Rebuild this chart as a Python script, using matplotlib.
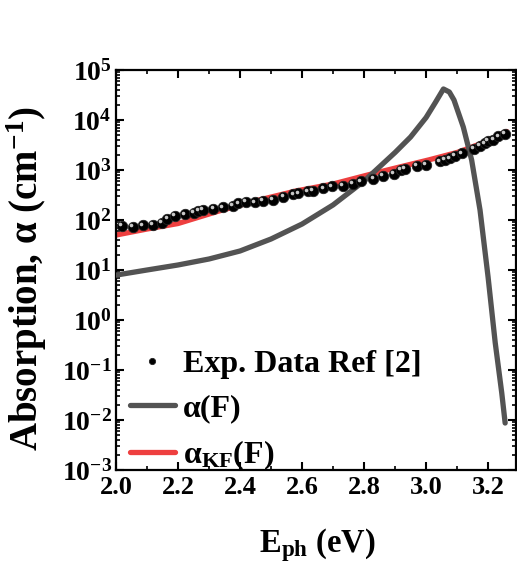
import numpy as np
import matplotlib
matplotlib.use("Agg")
import matplotlib.pyplot as plt
from matplotlib.transforms import ScaledTranslation
from matplotlib.ticker import LogLocator, MultipleLocator, NullFormatter

plt.rcParams['font.family'] = ['Liberation Serif', 'DejaVu Serif']
plt.rcParams['font.weight'] = 'bold'
plt.rcParams['mathtext.fontset'] = 'custom'
plt.rcParams['mathtext.rm'] = 'Liberation Serif:bold'
plt.rcParams['mathtext.bf'] = 'Liberation Serif:bold'
plt.rcParams['mathtext.it'] = 'Liberation Serif:bold'
plt.rcParams['mathtext.default'] = 'bf'

# experimental data (Ref [2])
exp_E = [2.02, 2.054, 2.086, 2.118, 2.147, 2.166, 2.19, 2.223, 2.25, 2.266,
         2.28, 2.314, 2.346, 2.378, 2.395, 2.42, 2.448, 2.475, 2.507, 2.54,
         2.572, 2.588, 2.62, 2.636, 2.669, 2.696, 2.733, 2.765, 2.79, 2.83,
         2.862, 2.895, 2.92, 2.932, 2.97, 3.0, 3.045, 3.06, 3.077, 3.094,
         3.115, 3.153, 3.174, 3.19, 3.2, 3.217, 3.233, 3.253]
exp_alpha = [76, 74, 78, 81, 89, 107, 120, 129, 141, 151,
             158, 166, 178, 191, 214, 234, 224, 240, 257, 295,
             324, 339, 372, 389, 427, 468, 479, 537, 589, 661,
             759, 832, 1000, 1070, 1200, 1260, 1480, 1580, 1700, 1900,
             2140, 2690, 3020, 3390, 3800, 4070, 4680, 5250]

# alpha(F)
aF_E = [2.00, 2.10, 2.20, 2.30, 2.40, 2.50, 2.60, 2.70, 2.80, 2.90, 2.95,
        3.00, 3.03, 3.056, 3.075, 3.09, 3.12, 3.147, 3.174, 3.20, 3.223,
        3.244, 3.255]
aF_alpha = [7.9, 10, 12.6, 16.6, 24, 41.7, 83, 200, 600, 2240, 4570,
            11200, 22400, 41700, 36300, 25100, 7240, 1580, 158, 7.2, 0.35,
            0.035, 0.0087]

# alpha_KF(F)
aKF_E = [2.00, 2.10, 2.20, 2.33, 2.46, 2.58, 2.70, 2.82, 2.92, 3.01, 3.10,
         3.20, 3.26]
aKF_alpha = [50, 66, 85, 150, 250, 380, 525, 820, 1170, 1600, 2240,
             3800, 5900]

yticks = [1e-3, 1e-2, 1e-1, 1e0, 1e1, 1e2, 1e3, 1e4, 1e5]
ytick_labels = [r'$10^{-3}$', r'$10^{-2}$', r'$10^{-1}$', r'$10^{0}$',
                r'$10^{1}$', r'$10^{2}$', r'$10^{3}$', r'$10^{4}$', r'$10^{5}$']
xticks = [2.0, 2.2, 2.4, 2.6, 2.8, 3.0, 3.2]
xtick_labels = ['2.0', '2.2', '2.4', '2.6', '2.8', '3.0', '3.2']

fig = plt.figure(figsize=(5.17, 5.70), dpi=100)
ax = fig.add_axes([116 / 517, 100 / 570, 400 / 517, 400 / 570])

ax.plot(aKF_E, aKF_alpha, color='#ee3f3f', lw=3.8, solid_capstyle='round',
        zorder=2, label=r'α$_{KF}$(F)')
ax.plot(aF_E, aF_alpha, color='#535353', lw=3.8, solid_capstyle='round',
        zorder=3, label='α(F)')
ax.plot(exp_E, exp_alpha, ls='none', marker='o', ms=7.5, mfc='black',
        mec='#222222', mew=0.6, zorder=4, label='Exp. Data Ref [2]')
# small highlight on each ball
shift = ScaledTranslation(-1.3 / 72, 1.3 / 72, fig.dpi_scale_trans)
ax.plot(exp_E, exp_alpha, ls='none', marker='o', ms=2.6, mfc='#c8c8c8',
        mec='none', zorder=5, transform=ax.transData + shift)

ax.set_yscale('log')
ax.set_xlim(2.0, 3.29)
ax.set_ylim(1e-3, 1e5)
ax.set_yticks(yticks)
ax.set_yticklabels(ytick_labels)
ax.yaxis.set_minor_locator(LogLocator(base=10, subs=np.arange(2, 10), numticks=20))
ax.yaxis.set_minor_formatter(NullFormatter())
ax.set_xticks(xticks)
ax.set_xticklabels(xtick_labels)
ax.xaxis.set_minor_locator(MultipleLocator(0.1))

for s in ax.spines.values():
    s.set_linewidth(1.6)
ax.tick_params(which='major', direction='in', length=5.5, width=1.5,
               top=True, right=True, labelsize=19)
ax.tick_params(axis='y', which='major', labelsize=20, pad=3)
ax.tick_params(which='minor', direction='in', length=3, width=1.2,
               top=True, right=True)
ax.tick_params(axis='x', which='major', pad=4)

ax.set_xlabel(r'E$_{ph}$ (eV)', fontsize=23.5, fontweight='bold')
ax.xaxis.set_label_coords(0.504, -0.14)
ax.set_ylabel(r'Absorption, α (cm$^{-1}$)', fontsize=28, fontweight='bold')
ax.yaxis.set_label_coords(-0.168, 0.479)

h, l = ax.get_legend_handles_labels()
order = [2, 1, 0]
leg = ax.legend([h[i] for i in order], [l[i] for i in order], loc='upper left',
                bbox_to_anchor=(0.035, 0.30), frameon=False, fontsize=23,
                borderpad=0, borderaxespad=0,
                handlelength=1.4, handletextpad=0.25, labelspacing=0.46,
                markerscale=0.6)

fig.savefig('out.png', dpi=100)
